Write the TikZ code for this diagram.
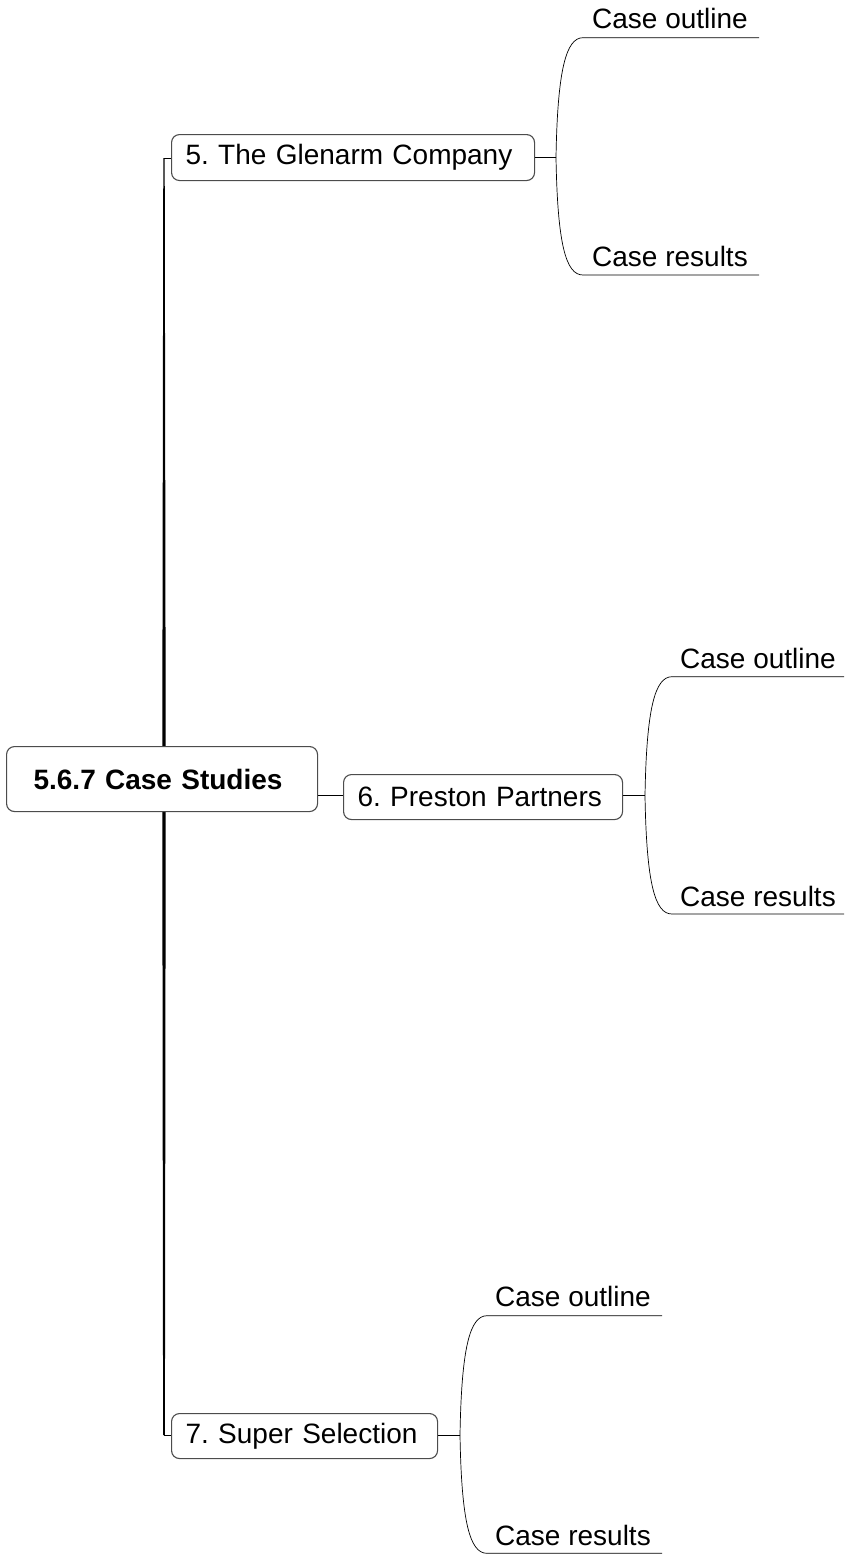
\documentclass[tikz,border=0pt]{standalone}
\usepackage{fontspec}
\setmainfont{Liberation Sans}
\frenchspacing
\begin{document}
\frenchspacing
\begin{tikzpicture}[x=1pt,y=-1pt,
  every node/.style={font=\fontsize{28}{32}\selectfont},
  topicbox/.style={draw=black!70, line width=1.1pt, rounded corners=8pt, fill=white,
    anchor=north west, inner xsep=14pt, inner ysep=0pt, align=left},
  rootbox/.style={topicbox, inner xsep=27pt, font=\fontsize{28}{32}\selectfont\bfseries},
  leaf/.style={anchor=base west, inner sep=0pt},
  conn/.style={black, line width=0.8pt},
  branch/.style={black, line width=0.7pt}
]
\useasboundingbox (0,0) rectangle (844,1555);

% trunk (tapered)
\fill[black] (163.3,158) -- (164.7,158) -- (165.7,746) -- (162.3,746) -- cycle;
\fill[black] (162.3,811) -- (165.7,811) -- (164.9,1435) -- (163.1,1435) -- cycle;

% nodes
\node[rootbox, text width=257pt, minimum height=65pt] (root) at (6,746) {5.6.7 Case Studies};
\node[topicbox, text width=335pt, minimum height=46pt] (glen) at (171,134) {5. The Glenarm Company};
\node[topicbox, text width=251pt, minimum height=45pt] (pres) at (343,774) {6. Preston Partners};
\node[topicbox, text width=238pt, minimum height=45pt] (sup) at (171,1413) {7. Super Selection};

% trunk ticks
\coordinate (tt) at (163.5,158);
\coordinate (tb) at (163.5,1435);
\draw[conn] (tt) -- (glen.west |- tt);
\draw[conn] (tb) -- (sup.west |- tb);

% root -> preston
\draw[conn] (root.east |- 0,795.5) -- (pres.west |- 0,795.5);

% Glenarm branch
\coordinate (gj) at (556,157.5);
\coordinate (go) at (583,37.7);
\coordinate (gr) at (583,275);
\coordinate (goe) at (759,37.7);
\coordinate (gre) at (759,275);
\draw[conn] (glen.east |- gj) -- (gj);
\draw[branch] (gj) .. controls (557.5,70) and (566,37.7) .. (go) -- (goe);
\draw[branch] (gj) .. controls (557.5,245) and (566,275) .. (gr) -- (gre);
\node[leaf] (go1) at (592,28.3) {Case outline};
\node[leaf] (gr1) at (592,266.7) {Case results};

% Preston branch
\coordinate (pj) at (645,795.7);
\coordinate (po) at (672,676.7);
\coordinate (pr) at (672,914);
\coordinate (poe) at (844,676.7);
\coordinate (pre) at (844,914);
\draw[conn] (pres.east |- pj) -- (pj);
\draw[branch] (pj) .. controls (646.5,708) and (655,676.7) .. (po) -- (poe);
\draw[branch] (pj) .. controls (646.5,884) and (655,914) .. (pr) -- (pre);
\node[leaf] (po1) at (680,668) {Case outline};
\node[leaf] (pr1) at (680,906.3) {Case results};

% Super branch
\coordinate (sj) at (460,1435);
\coordinate (so) at (487,1315.7);
\coordinate (sr) at (487,1553.3);
\coordinate (soe) at (662,1315.7);
\coordinate (sre) at (662,1553.3);
\draw[conn] (sup.east |- sj) -- (sj);
\draw[branch] (sj) .. controls (461.5,1347) and (470,1315.7) .. (so) -- (soe);
\draw[branch] (sj) .. controls (461.5,1523) and (470,1553.3) .. (sr) -- (sre);
\node[leaf] (so1) at (495,1306.7) {Case outline};
\node[leaf] (sr1) at (495,1545) {Case results};
\end{tikzpicture}
\end{document}
